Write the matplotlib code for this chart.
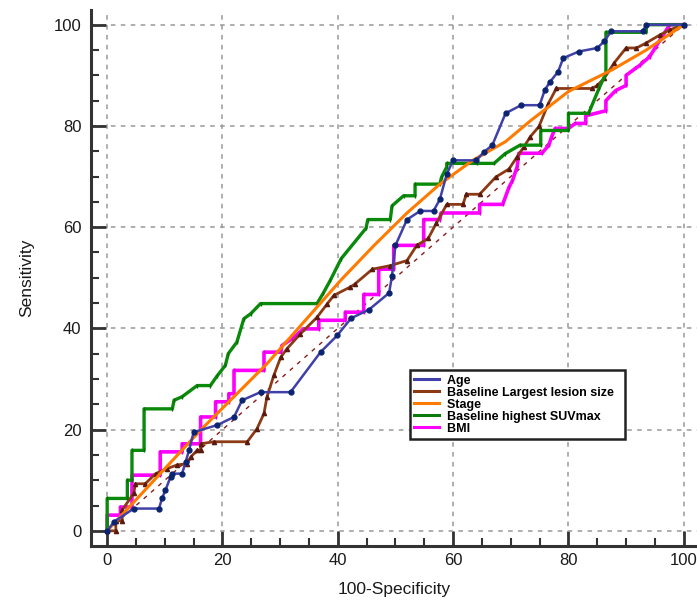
import matplotlib
matplotlib.use("Agg")
import matplotlib.pyplot as plt
from matplotlib.ticker import MultipleLocator
from matplotlib.lines import Line2D

plt.rcParams['font.family'] = ['Liberation Sans', 'DejaVu Sans']

# ROC curves (100-Specificity, Sensitivity)
age_x = [0, 1.2, 4.6, 9, 9.5, 10.1, 11, 11.3, 13, 13.6, 14.2, 15, 19.1, 22, 23.4, 26.6, 31.8, 37, 39.9,
         42.3, 45.4, 48.9, 49.4, 50, 52, 54.3, 56.6, 57.7, 58.9, 60, 64, 65.4, 66.8, 69.1, 71.8, 75,
         75.9, 76.8, 78.2, 79.1, 81.8, 85, 86.2, 87.4, 92.9, 93.5, 100]
age_y = [0, 1.8, 4.4, 4.4, 6.4, 8, 10.7, 11.3, 11.3, 13.6, 15.9, 19.5, 20.9, 22.5, 25.8, 27.4, 27.4, 35.3, 38.6,
         42, 43.7, 47, 50.4, 56.4, 61.5, 63.2, 63.2, 65.5, 70.5, 73.2, 73.2, 74.9, 76.2, 82.5, 84.1, 84.1,
         87.1, 88.7, 90.7, 93.4, 94.7, 95.4, 96.7, 98.7, 98.7, 100, 100]

size_x = [0, 1.5, 1.5, 2.6, 2.6, 4.6, 4.9, 6.6, 8.4, 10.4, 12.1, 13.9, 14.5, 15.6, 16.2, 16.2, 18.5, 24.3, 26,
          27.2, 27.7, 28.9, 30.1, 31.2, 33.5, 36.4, 38.2, 39.3, 42.2, 42.9, 46, 49.1, 52, 53.7, 55.7,
          57.1, 58.9, 61.7, 62.3, 64.6, 67.4, 69.7, 71.1, 72.3, 73.4, 74.9, 76.5, 77.9, 84.1, 85, 86.2,
          87.9, 90, 91.8, 93.5, 95.9, 97.6, 100]
size_y = [0, 0, 2, 2, 4.1, 7.4, 9.3, 9.3, 11.3, 12.3, 13, 13.3, 14.6, 15.9, 15.9, 17.2, 17.6, 17.6, 20.2,
          23.2, 26.4, 30.7, 34.3, 36, 38.9, 42.2, 44.9, 46.5, 48.2, 48.7, 51.7, 52.4, 53.4, 56.4, 57.8,
          60.8, 64.5, 64.5, 66.5, 66.5, 69.9, 71.5, 73.9, 75.9, 77.9, 79.9, 84.4, 87.4, 87.4, 88, 89.4,
          92.4, 95.4, 95.4, 96.4, 98, 99, 100]

stage_x = [0, 16.2, 27.7, 40.5, 46.3, 52, 57.7, 63.4, 69.1, 73.5, 80, 87.6, 93.5, 100]
stage_y = [0, 19.9, 33, 49.5, 56.4, 62.8, 68.5, 73.2, 76.9, 81.1, 86.8, 91.1, 95, 100]

suv_x = [0, 0, 3.5, 3.5, 4.3, 4.3, 6.4, 6.4, 11.3, 11.6, 13, 15.6, 17.9, 19, 20.5, 21, 22.5, 23.7, 24.9,
         26.6, 36.4, 37.5, 38.7, 40.6, 44.9, 45.2, 49.1, 49.4, 51.4, 53.4, 53.4, 57.7, 58, 58.9, 58.9,
         64.1, 67.1, 69, 71.6, 75.2, 75.2, 80, 80, 83.5, 85.3, 86.5, 86.5, 93.5, 93.5, 100]
suv_y = [0, 6.4, 6.4, 10, 10, 15.9, 15.9, 24.1, 24.1, 25.8, 26.5, 28.7, 28.7, 30.5, 32.7, 35, 37.3, 41.9, 42.9,
         44.9, 44.9, 47, 49.5, 53.8, 59.8, 61.5, 61.5, 64.2, 66.2, 66.2, 68.5, 68.5, 69.9, 71.9, 72.6,
         72.6, 72.6, 74.5, 76.2, 76.2, 79.1, 79.1, 82.5, 82.5, 87.4, 90.4, 98.5, 98.5, 100, 100]

bmi_x = [0, 0, 2.3, 2.3, 4.3, 4.3, 9.2, 9.2, 13, 13, 16.2, 16.2, 18.8, 18.8, 21.1, 21.1, 22, 22, 27.2, 27.2,
         30.1, 30.3, 32.1, 34.1, 36.7, 36.7, 41.3, 41.3, 44.5, 44.5, 47.1, 47.1, 49.7, 49.7, 54.9, 54.9,
         57.7, 57.9, 64.6, 64.6, 68.6, 69.7, 70.3, 71.1, 71.4, 75.4, 76.6, 77.1, 77.7, 80, 81.2, 83, 83,
         86.5, 86.5, 88.2, 90, 90, 92.4, 94.1, 95.9, 97.4, 97.4, 100]
bmi_y = [0, 3.1, 3.1, 4.7, 4.7, 11, 11, 15.6, 15.6, 17.2, 17.2, 22.5, 22.5, 25.5, 25.5, 27.1, 27.1, 31.7, 31.7, 35.3,
         35.3, 36.6, 38, 39.9, 39.9, 41.6, 41.6, 43.2, 43.2, 46.7, 46.7, 51.7, 51.7, 56.4, 56.4, 61.5,
         61.5, 62.8, 62.8, 64.5, 64.5, 67.9, 69.2, 71.9, 74.6, 74.6, 76.2, 77.9, 79.5, 79.5, 80.5, 80.5, 82,
         83, 85, 87, 88, 90, 92, 93.7, 97, 99.7, 100, 100]

legend_order = ['Age', 'Baseline Largest lesion size', 'Stage', 'Baseline highest SUVmax', 'BMI']
legend_colors = ['#4040a8', '#8b3a14', '#ff7a00', '#0a7a0a', '#ff00ff']

fig = plt.figure(figsize=(6.97, 6.04), dpi=100)
ax = fig.add_axes([0.1306, 0.096, 0.8694, 0.8874])

# chance line
ax.plot([0, 100], [0, 100], color='#8b1a1a', lw=1, ls=(0, (3, 4)), zorder=2)

ax.plot(bmi_x, bmi_y, color='#ff00ff', lw=2.6, marker='|', ms=3.5, mec='#dd00dd', zorder=3)
ax.plot(size_x, size_y, color='#8b3a14', lw=2, marker='^', ms=3, mfc='#5a1a10', mec='#5a1a10', zorder=4)
ax.plot(suv_x, suv_y, color='#0a8a0a', lw=2.4, marker='|', ms=3.5, mec='#0a6a0a', zorder=4)
ax.plot(stage_x, stage_y, color='#ff7a00', lw=2.2, zorder=5)
ax.plot(age_x, age_y, color='#4040a8', lw=1.8, marker='o', ms=3.5, mfc='#0b2470', mec='#0b2470', zorder=6)

ax.set_xlim(-2.8, 102.3)
ax.set_ylim(-3.0, 102.9)
ax.xaxis.set_major_locator(MultipleLocator(20))
ax.yaxis.set_major_locator(MultipleLocator(20))
ax.xaxis.set_minor_locator(MultipleLocator(5))
ax.yaxis.set_minor_locator(MultipleLocator(5))
ax.grid(True, which='major', color='#999999', lw=1.1, ls=(0, (3, 3.5)))
ax.set_axisbelow(True)

for s in ['top', 'right']:
    ax.spines[s].set_visible(False)
for s in ['left', 'bottom']:
    ax.spines[s].set_linewidth(2.2)
    ax.spines[s].set_color('#333333')
ax.tick_params(which='major', direction='in', length=11, width=2, color='#333333',
               labelsize=12, labelcolor='#1a1a1a', pad=5)
ax.tick_params(which='minor', direction='in', length=5.5, width=1.5, color='#333333')
ax.tick_params(axis='y', which='major', pad=7)

ax.set_xlabel('100-Specificity', fontsize=12.5, color='#1a1a1a', labelpad=10)
ax.set_ylabel('Sensitivity', fontsize=12.5, color='#1a1a1a', labelpad=14)

hs = [Line2D([], [], color=c, lw=2.2) for c in legend_colors]
labels = [t + '  ' for t in legend_order]
leg = ax.legend(hs, labels, loc='upper left', bbox_to_anchor=(0.526, 0.328), borderaxespad=0,
                fancybox=False, framealpha=1, edgecolor='#222222',
                labelspacing=0.0, handlelength=2.0, handletextpad=0.6, borderpad=0.35,
                prop={'weight': 'bold', 'size': 9})
leg.get_frame().set_linewidth(1.8)
leg.set_zorder(10)

fig.savefig('out.png', dpi=100)
